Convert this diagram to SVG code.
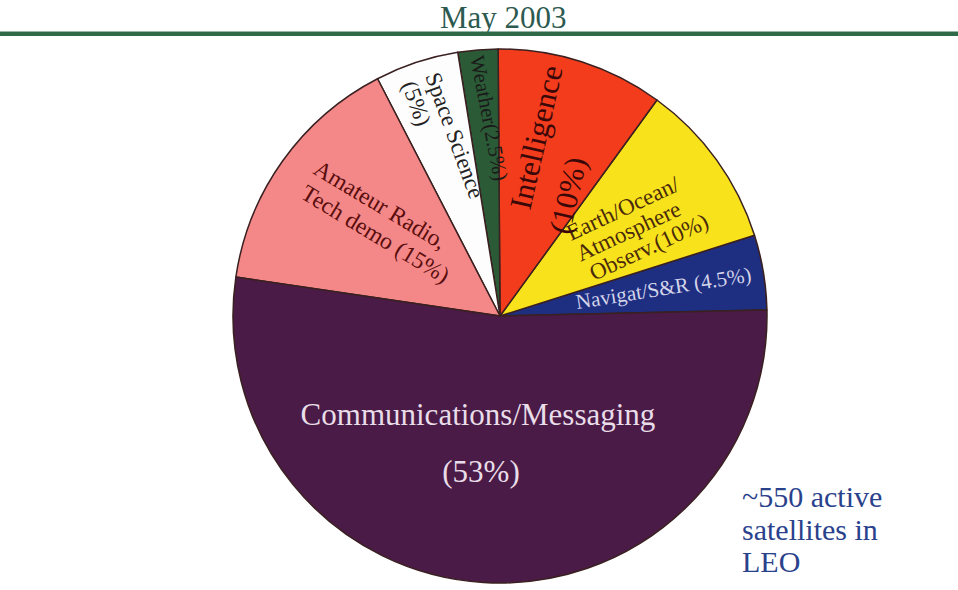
<svg xmlns="http://www.w3.org/2000/svg" width="958" height="590" viewBox="0 0 958 590">
<style>
.sl{stroke:#3a2020;stroke-width:1.5;stroke-linejoin:round}
.t{font-family:"Liberation Serif","Times New Roman",serif}
</style>
<rect width="958" height="590" fill="#ffffff"/>
<g id="title">
<text class="t" x="440" y="28" font-size="31" fill="#2d5a50">May 2003</text>
<rect x="0" y="31.5" width="958" height="4.5" fill="#2f6a48"/>
</g>
<g id="slice-navigat">
<path class="sl" fill="#1e2f82" d="M500,316 L766.93,309.94 A267,267 0 0 0 754.50,235.27 Z"/>
<text class="t" transform="translate(577,309) rotate(-9)" font-size="21" fill="#d4d4ea">Navigat/S&amp;R (4.5%)</text>
</g>
<g id="slice-earth">
<path class="sl" fill="#f8e21c" d="M500,316 L754.50,235.27 A267,267 0 0 0 656.94,100 Z"/>
<text class="t" transform="translate(571,241) rotate(-25)" font-size="23" fill="#4a2a0a"><tspan x="0" y="0">Earth/Ocean/</tspan><tspan x="0" y="23">Atmosphere</tspan><tspan x="4" y="46">Observ.(10%)</tspan></text>
</g>
<g id="slice-intelligence">
<path class="sl" fill="#f23c1c" d="M500,316 L656.94,100 A267,267 0 0 0 498.14,49 Z"/>
<text class="t" transform="translate(530,211) rotate(-77)" font-size="31" fill="#3a0808"><tspan x="0" y="0">Intelligence</tspan><tspan x="-15" y="44">(10%)</tspan></text>
</g>
<g id="slice-weather">
<path class="sl" fill="#2b5b36" d="M500,316 L498.14,49 A267,267 0 0 0 457.77,52.36 Z"/>
<text class="t" transform="translate(470,57) rotate(79)" font-size="21" fill="#1a1a1a">Weather(2.5%)</text>
</g>
<g id="slice-space">
<path class="sl" fill="#fdfdfd" d="M500,316 L457.77,52.36 A267,267 0 0 0 377.54,78.74 Z"/>
<text class="t" transform="translate(425,76) rotate(70)" font-size="23" fill="#222222"><tspan x="0" y="0">Space Science</tspan><tspan x="0" y="25">(5%)</tspan></text>
</g>
<g id="slice-amateur">
<path class="sl" fill="#f48888" d="M500,316 L377.54,78.74 A267,267 0 0 0 235.86,277 Z"/>
<text class="t" transform="translate(312,173) rotate(31)" font-size="23.5" fill="#5a0d0d"><tspan x="0" y="0">Amateur Radio,</tspan><tspan x="2" y="27.5">Tech demo (15%)</tspan></text>
</g>
<g id="slice-comm">
<path class="sl" fill="#4a1b46" d="M500,316 L235.86,277 A267,267 0 1 0 766.93,309.94 Z"/>
<text class="t" x="478" y="425" font-size="31" fill="#e8dde8" text-anchor="middle">Communications/Messaging</text>
<text class="t" x="481" y="482" font-size="31" fill="#e8dde8" text-anchor="middle">(53%)</text>
</g>
<g id="note">
<text class="t" font-size="30" fill="#2a428c"><tspan x="742" y="507">~550 active</tspan><tspan x="742" y="540">satellites in</tspan><tspan x="742" y="572">LEO</tspan></text>
</g>
<g id="connectors"/>
</svg>
